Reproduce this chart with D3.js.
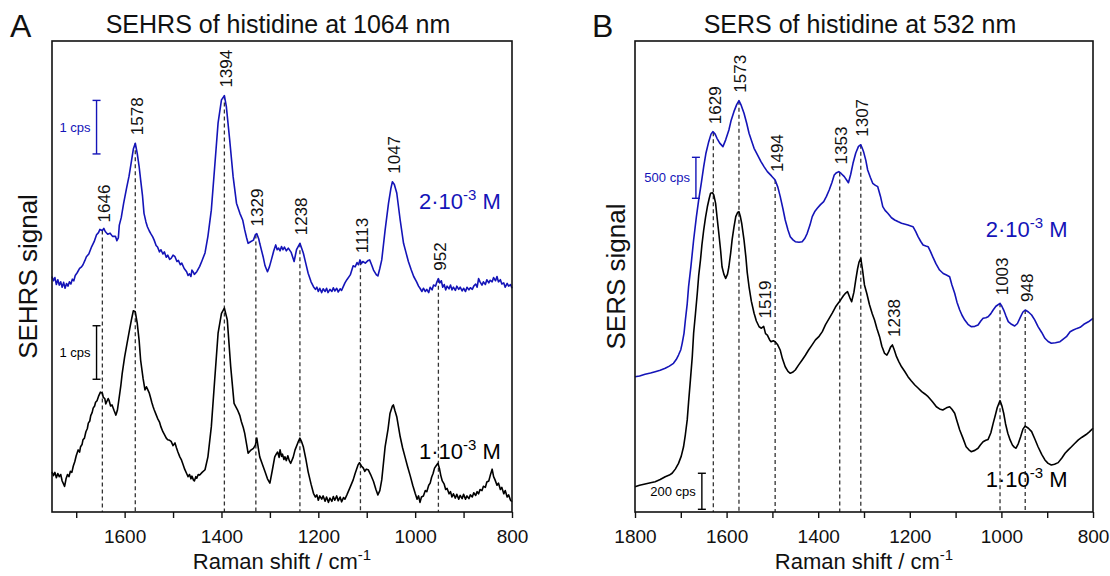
<!DOCTYPE html>
<html>
<head>
<meta charset="utf-8">
<script src="https://cdn.jsdelivr.net/npm/d3@7"></script>
<style>
  body { margin: 0; background: #fff; }
  svg { display: block; }
  text { font-family: "Liberation Sans", Arial, Helvetica, sans-serif; }
</style>
</head>
<body>
<svg id="fig" width="1110" height="576"></svg>
<script>
// ---------------- SEHRS (1064 nm) spectra: [Raman shift cm-1, signal cps] ----------------
const sehrsHigh = [
  [1750,4.40],[1747,4.32],[1744,4.38],[1741,4.25],[1738,4.34],[1735,4.24],[1732,4.30],[1729,4.20],
  [1726,4.29],[1723,4.18],[1720,4.27],[1717,4.22],[1714,4.30],[1711,4.26],[1708,4.35],[1705,4.32],
  [1702,4.42],[1698,4.47],[1693,4.55],[1689,4.58],[1686,4.62],[1682,4.70],[1679,4.77],[1674,4.82],
  [1668,4.96],[1663,5.05],[1658,5.18],[1654,5.22],[1651,5.28],[1646,5.26],[1643,5.30],[1640,5.24],
  [1635,5.19],[1630,5.21],[1625,5.15],[1619,5.15],[1616,5.07],[1613,5.12],[1611,5.36],[1607,5.50],
  [1602,5.77],[1596,6.05],[1591,6.27],[1586,6.55],[1582,6.78],[1578,6.89],[1574,6.70],[1570,6.45],
  [1567,6.21],[1563,5.90],[1560,5.58],[1556,5.42],[1553,5.33],[1549,5.25],[1546,5.20],[1542,5.14],
  [1539,5.08],[1535,4.98],[1532,4.95],[1528,4.86],[1525,4.90],[1521,4.82],[1518,4.86],[1514,4.76],
  [1511,4.80],[1507,4.72],[1504,4.74],[1500,4.80],[1496,4.77],[1492,4.68],[1489,4.70],[1485,4.62],
  [1482,4.65],[1477,4.55],[1472,4.49],[1469,4.42],[1466,4.45],[1463,4.40],[1461,4.52],[1458,4.48],
  [1456,4.44],[1451,4.49],[1445,4.59],[1440,4.70],[1434,4.84],[1428,5.15],[1421,5.64],[1414,6.45],
  [1407,7.27],[1400,7.70],[1394,7.78],[1390,7.58],[1383,6.95],[1376,6.27],[1369,5.77],[1362,5.58],
  [1356,5.45],[1352,5.27],[1348,5.12],[1345,5.02],[1340,5.05],[1334,5.08],[1330,5.18],[1327,5.20],
  [1323,5.10],[1321,5.02],[1314,4.77],[1310,4.60],[1305,4.49],[1301,4.58],[1297,4.71],[1292,4.88],
  [1288,4.99],[1285,4.90],[1282,4.93],[1279,4.88],[1276,4.96],[1273,4.90],[1270,4.95],[1266,4.88],
  [1262,4.93],[1256,4.85],[1250,4.68],[1245,4.90],[1238,5.02],[1231,4.84],[1226,4.65],[1221,4.46],
  [1215,4.30],[1210,4.21],[1206,4.16],[1203,4.20],[1200,4.12],[1197,4.18],[1193,4.10],[1190,4.17],
  [1186,4.12],[1183,4.18],[1180,4.10],[1176,4.16],[1172,4.12],[1169,4.19],[1166,4.13],[1162,4.18],
  [1159,4.11],[1155,4.17],[1152,4.14],[1148,4.22],[1145,4.28],[1141,4.34],[1134,4.43],[1128,4.60],
  [1124,4.58],[1120,4.66],[1117,4.62],[1114,4.71],[1111,4.64],[1108,4.68],[1103,4.65],[1097,4.70],
  [1094,4.71],[1090,4.62],[1086,4.52],[1080,4.43],[1077,4.41],[1073,4.55],[1069,4.71],[1062,5.27],
  [1055,5.77],[1050,6.05],[1047,6.17],[1043,6.12],[1038,5.96],[1031,5.46],[1024,5.02],[1019,4.85],
  [1014,4.68],[1008,4.52],[1003,4.40],[997,4.30],[993,4.22],[990,4.18],[986,4.12],[983,4.18],
  [979,4.12],[976,4.16],[972,4.10],[969,4.20],[965,4.15],[962,4.24],[958,4.22],[955,4.30],
  [952,4.36],[949,4.28],[946,4.32],[943,4.20],[940,4.25],[937,4.15],[934,4.22],[930,4.17],
  [927,4.24],[924,4.15],[921,4.20],[917,4.14],[914,4.22],[910,4.16],[907,4.20],[903,4.13],
  [900,4.18],[896,4.12],[893,4.20],[889,4.15],[886,4.19],[882,4.16],[879,4.22],[875,4.26],
  [872,4.20],[869,4.36],[866,4.30],[862,4.24],[859,4.30],[855,4.25],[852,4.34],[848,4.28],
  [845,4.33],[841,4.30],[838,4.38],[834,4.32],[831,4.40],[828,4.30],[824,4.34],[821,4.26],
  [817,4.28],[814,4.20],[810,4.27],[807,4.22],[803,4.25],[800,4.18]
];
const sehrsLow = [
  [1750,0.75],[1747,0.68],[1744,0.74],[1741,0.64],[1738,0.72],[1735,0.66],[1732,0.70],[1729,0.58],
  [1726,0.52],[1724,0.48],[1721,0.62],[1718,0.70],[1715,0.66],[1712,0.76],[1709,0.74],[1706,0.86],
  [1703,0.94],[1700,1.05],[1696,1.16],[1693,1.12],[1691,1.22],[1688,1.26],[1686,1.35],[1683,1.38],
  [1680,1.50],[1677,1.56],[1675,1.66],[1672,1.70],[1670,1.80],[1667,1.86],[1665,1.94],[1662,1.98],
  [1660,2.05],[1657,2.08],[1654,2.16],[1650,2.24],[1646,2.22],[1644,2.14],[1641,2.12],[1639,2.02],
  [1637,2.06],[1634,2.12],[1632,2.08],[1629,1.98],[1626,2.00],[1622,1.90],[1618,1.81],[1615,1.90],
  [1612,2.09],[1608,2.35],[1605,2.59],[1600,2.90],[1595,3.15],[1590,3.40],[1586,3.59],[1582,3.76],
  [1578,3.74],[1574,3.53],[1570,3.20],[1567,2.84],[1562,2.50],[1558,2.28],[1555,2.34],[1553,2.30],
  [1549,2.22],[1546,2.12],[1544,2.05],[1541,1.96],[1539,1.91],[1535,1.82],[1532,1.75],[1528,1.68],
  [1525,1.59],[1521,1.50],[1518,1.45],[1514,1.38],[1511,1.35],[1507,1.34],[1504,1.32],[1500,1.24],
  [1496,1.29],[1493,1.20],[1490,1.12],[1486,1.03],[1483,0.98],[1479,0.88],[1476,0.80],[1472,0.72],
  [1469,0.66],[1466,0.70],[1463,0.62],[1461,0.67],[1458,0.60],[1456,0.58],[1453,0.66],[1451,0.63],
  [1448,0.70],[1445,0.69],[1440,0.74],[1434,0.79],[1428,1.03],[1421,1.59],[1414,2.47],[1407,3.34],
  [1400,3.71],[1394,3.81],[1388,3.59],[1381,2.72],[1374,2.03],[1370,1.96],[1367,1.91],[1362,1.80],
  [1359,1.69],[1355,1.58],[1352,1.47],[1348,1.26],[1345,1.10],[1340,1.15],[1334,1.19],[1330,1.25],
  [1327,1.38],[1324,1.20],[1321,1.03],[1315,0.88],[1310,0.75],[1305,0.62],[1300,0.54],[1295,0.78],
  [1290,1.03],[1287,1.08],[1284,1.12],[1281,1.02],[1279,1.16],[1276,1.04],[1274,1.08],[1271,0.98],
  [1269,1.03],[1266,0.96],[1263,1.05],[1260,0.96],[1257,0.91],[1252,1.02],[1248,1.16],[1242,1.30],
  [1238,1.38],[1234,1.30],[1231,1.22],[1226,1.00],[1221,0.75],[1215,0.52],[1210,0.35],[1206,0.28],
  [1203,0.32],[1200,0.22],[1197,0.30],[1193,0.24],[1190,0.30],[1186,0.20],[1183,0.28],[1179,0.18],
  [1176,0.26],[1172,0.20],[1169,0.29],[1166,0.22],[1162,0.30],[1159,0.21],[1155,0.28],[1152,0.19],
  [1148,0.27],[1145,0.24],[1141,0.32],[1134,0.47],[1128,0.60],[1124,0.72],[1118,0.88],[1115,0.92],
  [1111,0.86],[1107,0.82],[1104,0.76],[1101,0.80],[1097,0.79],[1092,0.70],[1086,0.57],[1081,0.42],
  [1077,0.32],[1073,0.40],[1069,0.60],[1062,1.22],[1056,1.55],[1052,1.84],[1047,1.98],[1045,2.00],
  [1042,1.90],[1038,1.78],[1031,1.41],[1026,1.20],[1021,1.03],[1016,0.86],[1010,0.67],[1005,0.50],
  [1000,0.35],[996,0.24],[993,0.30],[990,0.18],[987,0.28],[983,0.30],[979,0.40],[976,0.38],
  [972,0.50],[969,0.54],[966,0.65],[963,0.72],[960,0.82],[957,0.86],[953,0.91],[950,0.82],
  [947,0.68],[944,0.58],[940,0.52],[937,0.42],[934,0.44],[930,0.34],[927,0.38],[924,0.28],
  [921,0.34],[917,0.26],[914,0.33],[910,0.24],[907,0.31],[903,0.25],[900,0.33],[896,0.24],
  [893,0.30],[889,0.25],[886,0.32],[882,0.28],[879,0.36],[875,0.31],[872,0.38],[869,0.34],
  [866,0.42],[862,0.40],[859,0.48],[855,0.46],[852,0.56],[848,0.58],[845,0.68],[841,0.80],
  [838,0.66],[835,0.60],[831,0.50],[828,0.54],[824,0.42],[821,0.46],[817,0.34],[814,0.40],
  [810,0.28],[807,0.32],[803,0.22],[800,0.19]
];

// ---------------- SERS (532 nm) spectra: [Raman shift cm-1, signal cps] ----------------
const sersHigh = [
  [1800,1651],[1790,1660],[1778,1680],[1766,1695],[1756,1712],[1745,1730],[1734,1753],[1725,1780],
  [1716,1814],[1710,1860],[1705,1915],[1700,1980],[1697,2058],[1693,2180],[1690,2342],[1686,2540],
  [1683,2749],[1678,2990],[1672,3318],[1666,3600],[1661,3806],[1655,4020],[1650,4213],[1645,4380],
  [1639,4518],[1634,4610],[1630,4640],[1625,4610],[1621,4559],[1615,4500],[1608,4457],[1602,4540],
  [1595,4660],[1590,4780],[1584,4884],[1578,4970],[1573,5018],[1568,4960],[1562,4864],[1556,4740],
  [1551,4620],[1545,4520],[1540,4437],[1532,4350],[1525,4274],[1518,4210],[1511,4152],[1502,4100],
  [1494,4050],[1488,3960],[1483,3850],[1477,3700],[1472,3562],[1466,3440],[1461,3359],[1455,3320],
  [1450,3298],[1442,3290],[1435,3298],[1429,3340],[1424,3400],[1418,3500],[1413,3603],[1407,3670],
  [1402,3705],[1395,3750],[1388,3786],[1382,3850],[1376,3928],[1370,4020],[1365,4111],[1360,4140],
  [1355,4152],[1350,4130],[1343,4091],[1338,4050],[1334,4017],[1329,4120],[1324,4254],[1318,4380],
  [1312,4460],[1307,4480],[1304,4440],[1301,4396],[1296,4290],[1292,4172],[1286,4080],[1281,4010],
  [1275,3985],[1270,3969],[1264,3850],[1259,3725],[1254,3680],[1248,3644],[1240,3590],[1233,3562],
  [1225,3540],[1218,3522],[1210,3510],[1204,3501],[1198,3490],[1193,3481],[1187,3420],[1182,3359],
  [1176,3300],[1171,3257],[1165,3245],[1160,3237],[1155,3180],[1150,3115],[1143,3030],[1135,2952],
  [1127,2910],[1120,2891],[1113,2871],[1108,2770],[1102,2668],[1097,2560],[1091,2464],[1086,2400],
  [1080,2342],[1073,2290],[1066,2261],[1058,2265],[1051,2281],[1045,2330],[1040,2363],[1034,2370],
  [1029,2383],[1023,2420],[1018,2464],[1012,2510],[1003,2546],[999,2510],[995,2464],[990,2390],
  [985,2322],[978,2290],[971,2269],[965,2300],[958,2383],[953,2440],[948,2464],[941,2440],
  [934,2403],[927,2340],[920,2261],[912,2190],[905,2119],[898,2080],[891,2058],[882,2065],
  [872,2078],[865,2110],[858,2139],[850,2200],[843,2220],[835,2240],[828,2253],[820,2290],
  [810,2320],[800,2363]
];
const sersLow = [
  [1800,140],[1790,148],[1778,155],[1766,162],[1756,168],[1745,180],[1734,196],[1725,205],
  [1719,215],[1712,238],[1705,270],[1699,310],[1694,362],[1690,430],[1686,511],[1683,610],
  [1679,733],[1675,860],[1672,992],[1668,1100],[1664,1214],[1661,1310],[1657,1399],[1654,1480],
  [1650,1565],[1646,1635],[1642,1694],[1638,1740],[1635,1769],[1631,1772],[1628,1760],[1624,1713],
  [1621,1640],[1617,1547],[1613,1450],[1610,1361],[1606,1320],[1602,1297],[1598,1320],[1595,1361],
  [1591,1440],[1588,1510],[1584,1580],[1580,1639],[1576,1662],[1573,1667],[1570,1640],[1567,1602],
  [1562,1510],[1558,1417],[1555,1330],[1551,1250],[1546,1170],[1540,1103],[1535,1060],[1529,1028],
  [1524,1020],[1519,1030],[1515,990],[1511,982],[1506,955],[1503,945],[1498,950],[1494,945],
  [1489,930],[1483,899],[1478,850],[1472,806],[1466,780],[1461,770],[1456,775],[1450,788],
  [1443,815],[1435,844],[1428,870],[1421,899],[1414,925],[1406,955],[1398,975],[1391,1001],
  [1384,1040],[1376,1075],[1369,1105],[1362,1139],[1356,1160],[1351,1177],[1345,1200],[1340,1215],
  [1336,1223],[1331,1190],[1327,1167],[1322,1220],[1318,1288],[1314,1350],[1311,1385],[1307,1408],
  [1303,1340],[1299,1260],[1294,1214],[1288,1150],[1282,1100],[1277,1066],[1272,1020],[1266,973],
  [1261,920],[1255,880],[1250,871],[1246,890],[1242,915],[1238,927],[1234,900],[1229,862],
  [1224,835],[1218,806],[1211,780],[1204,751],[1197,728],[1189,705],[1182,688],[1174,668],
  [1167,655],[1160,640],[1157,631],[1150,610],[1142,584],[1135,572],[1128,566],[1120,578],
  [1113,584],[1108,570],[1102,548],[1097,505],[1091,455],[1084,410],[1077,362],[1071,345],
  [1066,335],[1058,342],[1051,354],[1046,372],[1040,390],[1034,398],[1029,403],[1023,440],
  [1018,492],[1013,540],[1009,580],[1003,618],[999,590],[995,548],[991,490],[986,437],
  [981,400],[976,372],[972,360],[968,354],[963,380],[958,418],[953,460],[948,477],
  [941,465],[934,446],[927,405],[920,362],[912,320],[905,289],[898,270],[891,261],
  [884,265],[876,274],[868,300],[861,326],[854,345],[847,362],[840,380],[832,400],
  [824,415],[815,430],[808,445],[800,465]
];

// Band assignments marked above the spectra
const sehrsBands = [1646, 1578, 1394, 1329, 1238, 1113, 1047, 952];
const sehrsBandLines = [1646, 1578, 1394, 1329, 1238, 1113, 952];
const sersBandsHigh = [1629, 1573, 1494, 1353, 1307, 1003, 948];
const sersBandsLow = [1519, 1238];

// Intensity scale bars: [shift position, bar start (cps), bar length (cps)]
const sehrsBarHigh = [1658, 6.69, 1];
const sehrsBarLow = [1658, 2.48, 1];
const sersBarHigh = [1667, 3827, 500];
const sersBarLow = [1654, 15, 200];

// Axis ticks
const sehrsTicks = [1700, 1600, 1500, 1400, 1300, 1200, 1100, 1000, 900, 800];
const sehrsTickLabels = [1600, 1400, 1200, 1000, 800];
const sersTicks = [1800, 1700, 1600, 1500, 1400, 1300, 1200, 1100, 1000, 900, 800];
const sersTickLabels = [1800, 1600, 1400, 1200, 1000, 800];

const BLUE = "#1414b8";
const INK = "#111";
const svg = d3.select("#fig");

const plotTop = 41, plotBottom = 512;

// value of a spectrum at a given shift (linear between samples)
function valueAt(series, s) {
  for (let i = 0; i < series.length - 1; i++) {
    const a = series[i], b = series[i + 1];
    if (s <= a[0] && s >= b[0]) {
      const t = (a[0] - s) / (a[0] - b[0]);
      return a[1] + t * (b[1] - a[1]);
    }
  }
  return series[series.length - 1][1];
}

function drawPanel(p) {
  const g = svg.append("g");
  const x = p.x;

  // bottom ticks
  const axis = d3.axisBottom(x)
    .tickValues(p.ticks)
    .tickSize(6)
    .tickSizeOuter(0)
    .tickPadding(12)
    .tickFormat(d => p.tickLabels.includes(d) ? d : "");
  const ax = g.append("g").attr("transform", `translate(0,${plotBottom})`).call(axis);
  ax.select(".domain").remove();
  ax.selectAll(".tick line").attr("stroke", INK).attr("stroke-width", 1.4);
  ax.selectAll(".tick text").attr("font-size", 19).attr("fill", INK);

  // dashed guide lines from the upper spectrum down to the axis
  p.lines.forEach(s => {
    g.append("line")
      .attr("x1", x(s)).attr("x2", x(s))
      .attr("y1", p.yHigh(valueAt(p.high, s)))
      .attr("y2", plotBottom)
      .attr("stroke", "#333").attr("stroke-width", 1.3)
      .attr("stroke-dasharray", "4,3");
  });

  // spectra
  const lineHigh = d3.line().x(d => x(d[0])).y(d => p.yHigh(d[1]));
  const lineLow = d3.line().x(d => x(d[0])).y(d => p.yLow(d[1]));
  g.append("path").datum(p.low).attr("d", lineLow)
    .attr("fill", "none").attr("stroke", "#000").attr("stroke-width", 1.6)
    .attr("stroke-linejoin", "round");
  g.append("path").datum(p.high).attr("d", lineHigh)
    .attr("fill", "none").attr("stroke", BLUE).attr("stroke-width", 1.6)
    .attr("stroke-linejoin", "round");

  // band labels (rotated)
  function bandLabel(s, yPix, gap) {
    g.append("text")
      .attr("transform", `translate(${x(s) + 2},${yPix - gap}) rotate(-90)`)
      .attr("text-anchor", "start")
      .attr("dominant-baseline", "central")
      .attr("font-size", 17).attr("fill", INK)
      .text(s);
  }
  p.bandsHigh.forEach(s => bandLabel(s, p.yHigh(valueAt(p.high, s)), 8));
  p.bandsLow.forEach(s => bandLabel(s, p.yLow(valueAt(p.low, s)), 8));

  // scale bars
  function scaleBar(bar, yS, color) {
    const bx = x(bar[0]);
    const y0 = yS(bar[1]), y1 = yS(bar[1] + bar[2]);
    const sb = g.append("g").attr("stroke", color).attr("stroke-width", 1.4);
    sb.append("line").attr("x1", bx).attr("x2", bx).attr("y1", y0).attr("y2", y1);
    sb.append("line").attr("x1", bx - 4).attr("x2", bx + 4).attr("y1", y0).attr("y2", y0);
    sb.append("line").attr("x1", bx - 4).attr("x2", bx + 4).attr("y1", y1).attr("y2", y1);
    g.append("text")
      .attr("x", bx - 6).attr("y", (y0 + y1) / 2)
      .attr("text-anchor", "end").attr("dominant-baseline", "central")
      .attr("font-size", 13).attr("fill", color)
      .text(`${bar[2]} cps`);
  }
  scaleBar(p.barHigh, p.yHigh, BLUE);
  scaleBar(p.barLow, p.yLow, "#000");

  // concentration labels
  function conc(at, yS, mant, color) {
    const t = g.append("text")
      .attr("x", x(at[0])).attr("y", yS(at[1]))
      .attr("font-size", 22).attr("fill", color);
    t.append("tspan").text(`${mant}·10`);
    t.append("tspan").attr("font-size", 15).attr("dy", -9).text("-3");
    t.append("tspan").attr("dy", 9).text(" M");
  }
  conc(p.concHigh, p.yHigh, 2, BLUE);
  conc(p.concLow, p.yLow, 1, "#000");

  // frame
  g.append("rect")
    .attr("x", x.range()[0]).attr("y", plotTop)
    .attr("width", x.range()[1] - x.range()[0]).attr("height", plotBottom - plotTop)
    .attr("fill", "none").attr("stroke", INK).attr("stroke-width", 1.6);

  const cx = (x.range()[0] + x.range()[1]) / 2;

  // title
  svg.append("text").attr("x", cx - 4).attr("y", 33)
    .attr("text-anchor", "middle").attr("font-size", 25).attr("fill", INK)
    .text(p.title);
  // panel letter
  svg.append("text").attr("x", p.letterX).attr("y", 37)
    .attr("font-size", 32).attr("fill", INK).text(p.letter);

  // x-axis title
  const xt = svg.append("text").attr("x", cx).attr("y", 569)
    .attr("text-anchor", "middle").attr("font-size", 22).attr("fill", INK);
  xt.append("tspan").text("Raman shift / cm");
  xt.append("tspan").attr("font-size", 15).attr("dy", -9).text("-1");

  // y-axis title
  svg.append("text")
    .attr("transform", `translate(${p.yTitleX},${(plotTop + plotBottom) / 2}) rotate(-90)`)
    .attr("text-anchor", "middle").attr("font-size", 26).attr("fill", INK)
    .text(p.yTitle);
}

// Panel A: SEHRS
const xA = d3.scaleLinear().domain([1750, 800]).range([52, 512]);
const yA = d3.scaleLinear().domain([0, 8.8]).range([plotBottom, plotTop]);
drawPanel({
  x: xA, yHigh: yA, yLow: yA,
  high: sehrsHigh, low: sehrsLow,
  ticks: sehrsTicks, tickLabels: sehrsTickLabels,
  lines: sehrsBandLines, bandsHigh: sehrsBands, bandsLow: [],
  barHigh: sehrsBarHigh, barLow: sehrsBarLow,
  concHigh: [992, 5.66], concLow: [992, 0.99],
  title: "SEHRS of histidine at 1064 nm", letter: "A", letterX: 10,
  yTitle: "SEHRS signal", yTitleX: 37
});

// Panel B: SERS
const xB = d3.scaleLinear().domain([1800, 800]).range([635, 1093]);
const yBHigh = d3.scaleLinear().domain([0, 5746]).range([plotBottom, plotTop]);
const yBLow = d3.scaleLinear().domain([0, 2614]).range([plotBottom, plotTop]);
drawPanel({
  x: xB, yHigh: yBHigh, yLow: yBLow,
  high: sersHigh, low: sersLow,
  ticks: sersTicks, tickLabels: sersTickLabels,
  lines: sersBandsHigh, bandsHigh: sersBandsHigh, bandsLow: sersBandsLow,
  barHigh: sersBarHigh, barLow: sersBarLow,
  concHigh: [1034, 3355], concLow: [1034, 139],
  title: "SERS of histidine at 532 nm", letter: "B", letterX: 592,
  yTitle: "SERS signal", yTitleX: 625
});
</script>
</body>
</html>
